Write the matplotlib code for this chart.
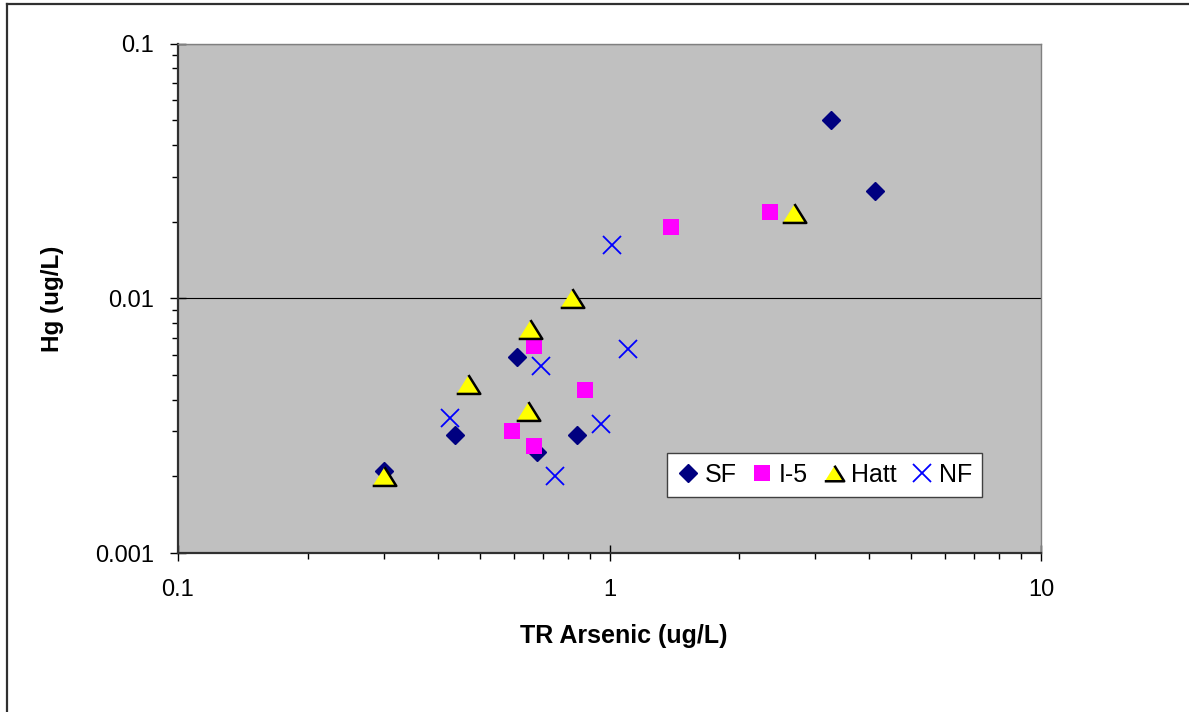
import matplotlib
matplotlib.use("Agg")
import matplotlib.pyplot as plt
from matplotlib.ticker import FixedLocator, FixedFormatter, LogLocator, NullFormatter
from matplotlib.lines import Line2D

plt.rcParams['font.family'] = ['Liberation Sans', 'DejaVu Sans']

# Data
sf_x = [3.26, 4.12, 0.61, 0.438, 0.84, 0.678, 0.30]
sf_y = [0.050, 0.0264, 0.0059, 0.0029, 0.0029, 0.0025, 0.0021]

i5_x = [1.39, 2.35, 0.667, 0.876, 0.593, 0.667]
i5_y = [0.0190, 0.0218, 0.0065, 0.00435, 0.0030, 0.00263]

hatt_x = [0.30, 0.471, 0.648, 0.654, 0.819, 2.68]
hatt_y = [0.0020, 0.0046, 0.0036, 0.0076, 0.0100, 0.0216]

nf_x = [1.013, 1.104, 0.695, 0.428, 0.956, 0.747]
nf_y = [0.0162, 0.0063, 0.0054, 0.0034, 0.0032, 0.0020]

x_ticks = [0.1, 1, 10]
x_tick_labels = ["0.1", "1", "10"]
y_ticks = [0.001, 0.01, 0.1]
y_tick_labels = ["0.001", "0.01", "0.1"]

W, H = 1189, 712
fig = plt.figure(figsize=(W / 100, H / 100), dpi=100)
ax = fig.add_axes([178 / W, 1 - 553 / H, (1041 - 178) / W, (553 - 43.5) / H])
ax.set_facecolor('#C0C0C0')
ax.set_xscale('log')
ax.set_yscale('log')
ax.set_xlim(0.1, 10)
ax.set_ylim(0.001, 0.1)

# gridline at major y ticks
ax.yaxis.grid(True, which='major', color='black', lw=0.8)
ax.set_axisbelow(True)

tri = [(-1, -0.8), (1, -0.8), (0, 0.8)]

ax.plot(sf_x, sf_y, ls='none', marker='D', ms=9.5, color='#000080', mec='#000080', label='SF', zorder=3)
ax.plot(i5_x, i5_y, ls='none', marker='s', ms=12, color='#FF00FF', mec='#FF00FF', mew=0, label='I-5', zorder=3)
ax.plot(hatt_x, hatt_y, ls='none', marker=tri, ms=17, mfc='#FFFF00', mec='black', mew=1.8, label='Hatt', zorder=4)
ax.plot(nf_x, nf_y, ls='none', marker='x', ms=13.5, mew=1.3, color='#0000FF', label='NF', zorder=3)

ax.xaxis.set_major_locator(FixedLocator(x_ticks))
ax.xaxis.set_major_formatter(FixedFormatter(x_tick_labels))
ax.yaxis.set_major_locator(FixedLocator(y_ticks))
ax.yaxis.set_major_formatter(FixedFormatter(y_tick_labels))
ax.xaxis.set_minor_locator(LogLocator(base=10, subs=range(2, 10)))
ax.yaxis.set_minor_locator(LogLocator(base=10, subs=range(2, 10)))
ax.xaxis.set_minor_formatter(NullFormatter())
ax.yaxis.set_minor_formatter(NullFormatter())

ax.tick_params(which='major', direction='inout', length=11, width=1.0, labelsize=17, pad=13, color='black')
ax.tick_params(which='minor', direction='out', length=4, width=1.0, color='black')
ax.tick_params(axis='y', which='major', pad=12)

for s in ['left', 'bottom']:
    ax.spines[s].set_color('#303030')
    ax.spines[s].set_linewidth(1.6)
for s in ['top', 'right']:
    ax.spines[s].set_color('#808080')
    ax.spines[s].set_linewidth(1.0)

fig.text(727 / W, 1 - 636 / H, 'TR Arsenic (ug/L)', ha='right', va='center',
         fontsize=18, fontweight='bold')
fig.text(52 / W, 1 - 299 / H, 'Hg (ug/L)', ha='center', va='center',
         fontsize=17.5, fontweight='bold', rotation=90)

leg = ax.legend(loc='lower left', bbox_to_anchor=((667 - 178) / 863, (553 - 497) / 509.5),
                ncol=4, frameon=True, fancybox=False, fontsize=18,
                handlelength=0.85, handletextpad=0.25, columnspacing=0.6,
                borderpad=0.4, borderaxespad=0, markerscale=1.0)
leg.get_frame().set_edgecolor('#404040')
leg.get_frame().set_facecolor('white')
leg.get_frame().set_linewidth(1.0)
leg.get_frame().set_alpha(1)
for h in leg.legend_handles:
    if h.get_label() == 'Hatt':
        h.set_markersize(14)

# outer chart border (left & top visible)
fig.add_artist(Line2D([6.5 / W, 6.5 / W], [0, 1 - 3.5 / H], transform=fig.transFigure,
                      color='#303030', lw=1.6))
fig.add_artist(Line2D([6.5 / W, 1], [1 - 3.5 / H, 1 - 3.5 / H], transform=fig.transFigure,
                      color='#303030', lw=1.6))

fig.savefig('out.png', dpi=100, facecolor='white')
